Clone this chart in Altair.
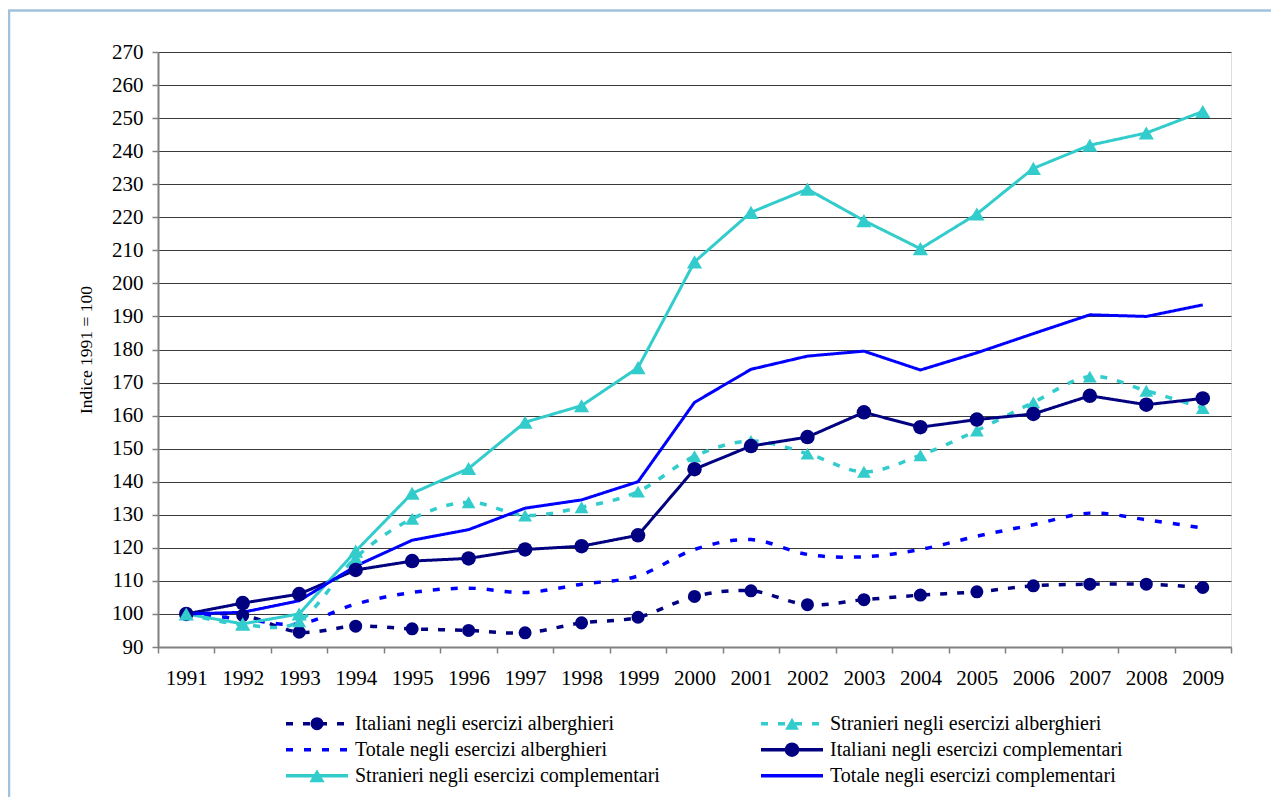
import altair as alt
import pandas as pd

years = [str(y) for y in range(1991, 2010)]

series = [
    "Italiani negli esercizi alberghieri",
    "Stranieri negli esercizi alberghieri",
    "Totale negli esercizi alberghieri",
    "Italiani negli esercizi complementari",
    "Stranieri negli esercizi complementari",
    "Totale negli esercizi complementari",
]

italiani_alb = [100, 99.6, 94.5, 96.3, 95.5, 95.0, 94.3, 97.3, 99.0, 105.3, 107.0, 102.8, 104.3, 105.7, 106.7, 108.5, 109.0, 109.0, 108.0]
stranieri_alb = [100, 96.8, 97.8, 117.0, 128.8, 133.8, 129.8, 132.3, 137.0, 147.7, 152.3, 148.5, 143.0, 148.0, 155.5, 164.0, 171.8, 167.5, 162.3]
totale_alb = [100, 98.5, 97.0, 103.0, 106.5, 107.8, 106.5, 109.0, 111.5, 119.5, 122.5, 118.0, 117.3, 119.5, 123.5, 127.0, 130.5, 128.5, 126.0]
italiani_compl = [100, 103.3, 106.0, 113.3, 116.0, 116.8, 119.5, 120.5, 123.8, 143.8, 150.8, 153.5, 161.0, 156.5, 158.8, 160.5, 166.0, 163.3, 165.2]
stranieri_compl = [100, 97.0, 100.0, 119.0, 136.5, 144.0, 158.0, 163.0, 174.5, 206.5, 221.5, 228.5, 219.0, 210.5, 221.0, 234.8, 241.8, 245.5, 252.0]
totale_compl = [100, 100.5, 104.0, 114.5, 122.3, 125.5, 132.0, 134.5, 140.0, 164.0, 174.0, 178.0, 179.5, 173.8, 179.0, 184.8, 190.5, 190.0, 193.5]

values = [italiani_alb, stranieri_alb, totale_alb, italiani_compl, stranieri_compl, totale_compl]

# ---- styles ----
NAVY, TURQ, BLUE = "#000080", "#33CCCC", "#0000FF"
colors = [NAVY, TURQ, BLUE, NAVY, TURQ, BLUE]
dashes = [[7, 10], [7, 10], [7, 11], [1, 0], [1, 0], [1, 0]]
marker_series = [series[0], series[1], series[3], series[4]]
marker_shapes = ["circle", "triangle-up", "circle", "triangle-up"]
marker_sizes = [170, 230, 170, 230]
FONT = "Liberation Serif, Times New Roman, serif"

rows = []
for s, vals in zip(series, values):
    for y, v in zip(years, vals):
        rows.append({"year": y, "value": v, "series": s})
df = pd.DataFrame(rows)
alb = df[df["series"].str.contains("alberghieri")]
compl = df[df["series"].str.contains("complementari")]
pts = df[df["series"].isin(marker_series)]

W, H = 1073, 595

color_scale = alt.Scale(domain=series, range=colors)
dash_scale = alt.Scale(domain=series, range=dashes)
shape_scale = alt.Scale(domain=marker_series, range=marker_shapes)
size_scale = alt.Scale(domain=marker_series, range=marker_sizes)

x_enc = alt.X(
    "year:O",
    scale=alt.Scale(type="band", paddingInner=0, paddingOuter=0),
    axis=alt.Axis(
        title=None, labelAngle=0, tickBand="extent", tickSize=6, labelPadding=14,
        domainColor="#808080", domainWidth=2, tickColor="#808080", tickWidth=1.5,
        labelFont=FONT, labelFontSize=21, labelColor="black", grid=False,
    ),
)
y_enc = alt.Y(
    "value:Q",
    scale=alt.Scale(domain=[90, 270], nice=False, zero=False),
    axis=alt.Axis(
        title="Indice 1991 = 100", values=list(range(90, 271, 10)), tickSize=6, labelPadding=9,
        domainColor="#808080", domainWidth=2, tickColor="#808080", tickWidth=1.5,
        labelFont=FONT, labelFontSize=21, labelColor="black",
        grid=True, gridColor="#3a3a3a", gridWidth=1,
        titleFont=FONT, titleFontSize=17.5, titleFontWeight="normal", titleColor="black",
        titleX=-72, titleY=H / 2, titleAngle=-90, titleAlign="center", titleBaseline="middle",
    ),
)

col = alt.Color("series:N", scale=color_scale, legend=None)
dash = alt.StrokeDash("series:N", scale=dash_scale, legend=None)
shp = alt.Shape("series:N", scale=shape_scale, legend=None)
siz = alt.Size("series:N", scale=size_scale, legend=None)

line_alb = alt.Chart(alb).mark_line(strokeWidth=3.5, interpolate="cardinal").encode(
    x=x_enc, y=y_enc, color=col, strokeDash=dash, detail="series:N")
line_compl = alt.Chart(compl).mark_line(strokeWidth=3).encode(
    x=x_enc, y=y_enc, color=col, strokeDash=dash, detail="series:N")
points = alt.Chart(pts).mark_point(filled=True, opacity=1, strokeWidth=0).encode(
    x=x_enc, y=y_enc, color=col, shape=shp, size=siz)

# ---- manual legend (layout computed from series order) ----
col_sym_left = [128, 603]
sym_len = 62
row_y = [671.7, 697.7, 723.7]
leg_rows = []
for i, s in enumerate(series):
    c, r = i % 2, i // 2
    leg_rows.append({
        "series": s, "label": s,
        "sx1": col_sym_left[c], "sx2": col_sym_left[c] + sym_len,
        "mx": col_sym_left[c] + sym_len / 2, "tx": col_sym_left[c] + sym_len + 7,
        "ty": row_y[r],
    })
leg = pd.DataFrame(leg_rows)
leg_pts = leg[leg["series"].isin(marker_series)]

lx = lambda f: alt.X(f, scale=None, axis=None)
ly = lambda f: alt.Y(f, scale=None, axis=None)

leg_lines = alt.Chart(leg).mark_rule(strokeWidth=3.5).encode(
    x=lx("sx1:Q"), x2="sx2:Q", y=ly("ty:Q"), color=col, strokeDash=dash)
leg_marks = alt.Chart(leg_pts).mark_point(filled=True, opacity=1, strokeWidth=0).encode(
    x=lx("mx:Q"), y=ly("ty:Q"), color=col, shape=shp, size=siz)
leg_text = alt.Chart(leg).mark_text(align="left", baseline="middle", font=FONT, fontSize=20, color="black").encode(
    x=lx("tx:Q"), y=ly("ty:Q"), text="label:N")

# ---- outer frame (left and top edges visible) ----
frame_df = pd.DataFrame({"k": [0]})
frame_left = alt.Chart(frame_df).mark_rule(color="#a2c2dc", strokeWidth=2.5).encode(
    x=alt.value(-149), y=alt.value(-42), y2=alt.value(H + 150))
frame_top = alt.Chart(frame_df).mark_rule(color="#a2c2dc", strokeWidth=2.5).encode(
    x=alt.value(-150), x2=alt.value(W + 40), y=alt.value(-41.5))

chart = alt.layer(
    line_alb, line_compl, points, leg_lines, leg_marks, leg_text, frame_left, frame_top
).properties(
    width=W, height=H,
    autosize=alt.AutoSizeParams(type="none"),
    padding={"left": 150, "top": 44, "right": 40, "bottom": 150},
).configure_view(stroke=None).configure(background="white")

chart.save("out.html", embed_options={"renderer": "svg", "actions": False})
